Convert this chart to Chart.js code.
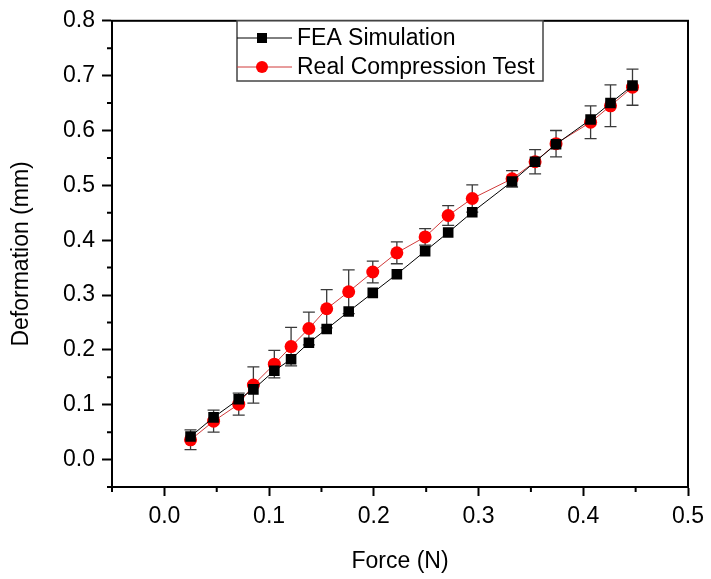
<!DOCTYPE html>
<html>
<head>
<meta charset="utf-8">
<script src="https://cdn.jsdelivr.net/npm/chart.js@4.4.1/dist/chart.umd.min.js"></script>
<style>
  html, body { margin: 0; padding: 0; background: #ffffff; }
  #wrap { width: 711px; height: 579px; }
</style>
</head>
<body>
<div id="wrap"><canvas id="c" width="711" height="579"></canvas></div>
<script>
// ---- data ----
const force = [0.025, 0.047, 0.071, 0.085, 0.105, 0.121, 0.138, 0.155, 0.176, 0.199,
               0.222, 0.249, 0.271, 0.294, 0.332, 0.354, 0.374, 0.407, 0.426, 0.447];
const feaDeformation = [0.042, 0.077, 0.110, 0.128, 0.162, 0.183, 0.213, 0.238, 0.270, 0.304,
                        0.338, 0.380, 0.414, 0.451, 0.507, 0.543, 0.575, 0.620, 0.650, 0.682];
const realDeformation = [0.036, 0.070, 0.101, 0.136, 0.174, 0.206, 0.239, 0.275, 0.306, 0.342,
                         0.377, 0.406, 0.445, 0.476, 0.512, 0.543, 0.576, 0.615, 0.645, 0.679];
const realError = [0.018, 0.020, 0.020, 0.033, 0.025, 0.035, 0.030, 0.035, 0.040, 0.020,
                   0.020, 0.015, 0.018, 0.025, 0.015, 0.022, 0.024, 0.030, 0.038, 0.033];
const seriesNames = ['FEA Simulation', 'Real Compression Test'];
const xTitle = 'Force (N)';
const yTitle = 'Deformation (mm)';

const FONT = "'Liberation Sans', Arial, sans-serif";

function pts(xs, ys) { return xs.map((x, i) => ({ x: x, y: ys[i] })); }
function isMajor(v) { return Math.abs(Math.round(v * 20)) % 2 === 0; }

// error bars + frame + minor ticks + legend
const extras = {
  id: 'extras',
  beforeDatasetsDraw(chart) {
    const ctx = chart.ctx, xs = chart.scales.x, ys = chart.scales.y;
    ctx.save();
    ctx.strokeStyle = '#3a3a3a';
    ctx.lineWidth = 1.3;
    force.forEach((f, i) => {
      const px = xs.getPixelForValue(f);
      const top = ys.getPixelForValue(realDeformation[i] + realError[i]);
      const bot = ys.getPixelForValue(realDeformation[i] - realError[i]);
      ctx.beginPath();
      ctx.moveTo(px, top); ctx.lineTo(px, bot);
      ctx.moveTo(px - 6, top); ctx.lineTo(px + 6, top);
      ctx.moveTo(px - 6, bot); ctx.lineTo(px + 6, bot);
      ctx.stroke();
    });
    ctx.restore();
  },
  afterDraw(chart) {
    const ctx = chart.ctx, a = chart.chartArea, xs = chart.scales.x, ys = chart.scales.y;
    ctx.save();
    ctx.strokeStyle = '#000';
    ctx.lineWidth = 2;
    ctx.strokeRect(a.left, a.top, a.right - a.left, a.bottom - a.top);
    // minor ticks
    ctx.beginPath();
    xs.ticks.forEach(t => {
      if (!isMajor(t.value)) {
        const p = xs.getPixelForValue(t.value);
        ctx.moveTo(p, a.bottom); ctx.lineTo(p, a.bottom + 5);
      }
    });
    ys.ticks.forEach(t => {
      if (!isMajor(t.value)) {
        const p = ys.getPixelForValue(t.value);
        ctx.moveTo(a.left, p); ctx.lineTo(a.left - 5, p);
      }
    });
    ctx.stroke();

    // legend box
    const L = 237, T = a.top, R = 543, B = 81;
    ctx.lineWidth = 1.5;
    ctx.strokeStyle = '#444';
    ctx.fillStyle = '#fff';
    ctx.fillRect(L, T, R - L, B - T);
    ctx.strokeRect(L, T, R - L, B - T);
    const rows = [38, 67];
    chart.data.datasets.forEach((ds, i) => {
      const y = rows[i];
      ctx.strokeStyle = ds.borderColor;
      ctx.lineWidth = 1;
      ctx.beginPath(); ctx.moveTo(L, y); ctx.lineTo(292, y); ctx.stroke();
      ctx.fillStyle = ds.pointBackgroundColor;
      if (ds.pointStyle === 'rect') {
        ctx.fillRect(262 - 5, y - 5, 10, 10);
      } else {
        ctx.beginPath(); ctx.arc(262, y, 6, 0, Math.PI * 2); ctx.fill();
      }
      ctx.fillStyle = '#000';
      ctx.font = '23px ' + FONT;
      ctx.textBaseline = 'middle';
      ctx.textAlign = 'left';
      ctx.fillText(ds.label, 297, y + 1);
    });
    ctx.restore();
  }
};

new Chart(document.getElementById('c'), {
  type: 'line',
  data: {
    datasets: [
      {
        label: seriesNames[0],
        data: pts(force, feaDeformation),
        borderColor: '#000000',
        borderWidth: 1,
        pointStyle: 'rect',
        pointRadius: 7.5,
        pointBackgroundColor: '#000000',
        pointBorderWidth: 0,
        fill: false,
        tension: 0
      },
      {
        label: seriesNames[1],
        data: pts(force, realDeformation),
        borderColor: '#d03a3a',
        borderWidth: 1,
        pointStyle: 'circle',
        pointRadius: 6.5,
        pointBackgroundColor: '#ff0000',
        pointBorderWidth: 0,
        fill: false,
        tension: 0
      }
    ]
  },
  options: {
    responsive: false,
    animation: false,
    events: [],
    layout: { padding: { top: 17, right: 23, left: 0, bottom: 0 } },
    plugins: { legend: { display: false }, tooltip: { enabled: false } },
    scales: {
      x: {
        type: 'linear',
        min: -0.05, max: 0.5,
        afterFit(s) { s.height = 92; },
        border: { display: true, color: '#000', width: 2 },
        grid: {
          drawOnChartArea: false, drawTicks: true, tickLength: 9, tickWidth: 2,
          tickColor: c => isMajor(c.tick.value) ? '#000' : 'rgba(0,0,0,0)'
        },
        ticks: {
          stepSize: 0.05, autoSkip: false, maxRotation: 0, padding: 7,
          color: '#000', font: { family: FONT, size: 23 },
          callback: v => isMajor(v) ? (Math.round(v * 10) / 10).toFixed(1) : ''
        },
        title: { display: true, text: xTitle, color: '#000',
                 font: { family: FONT, size: 23 }, padding: { top: 4, bottom: 4 } }
      },
      y: {
        type: 'linear',
        min: -0.05, max: 0.8,
        afterFit(s) { s.width = 112; },
        border: { display: true, color: '#000', width: 2 },
        grid: {
          drawOnChartArea: false, drawTicks: true, tickLength: 10, tickWidth: 2,
          tickColor: c => isMajor(c.tick.value) ? '#000' : 'rgba(0,0,0,0)'
        },
        ticks: {
          stepSize: 0.05, autoSkip: false, padding: 7,
          color: '#000', font: { family: FONT, size: 23 },
          callback: v => isMajor(v) ? (Math.round(v * 10) / 10).toFixed(1) : ''
        },
        title: { display: true, text: yTitle, color: '#000',
                 font: { family: FONT, size: 23 }, padding: { top: 8, bottom: 0 } }
      }
    }
  },
  plugins: [extras]
});
</script>
</body>
</html>
